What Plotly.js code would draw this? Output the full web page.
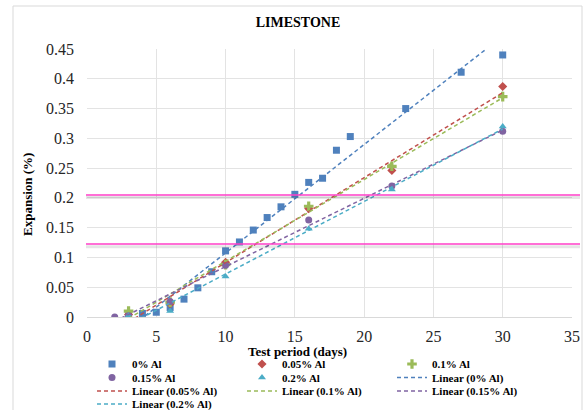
<!DOCTYPE html>
<html>
<head>
<meta charset="utf-8">
<script src="https://cdn.plot.ly/plotly-3.0.1.min.js"></script>
<style>html,body{margin:0;padding:0;background:#fff;}#chart{width:584px;height:410px;}</style>
</head>
<body>
<div id="chart"></div>
<script>
// ---- data ----
const seriesNames = ["0% Al", "0.05% Al", "0.1% Al", "0.15% Al", "0.2% Al"];

const days0 = [3, 4, 5, 6, 7, 8, 9, 10, 11, 12, 13, 14, 15, 16, 17, 18, 19, 23, 27, 30];
const exp0  = [0.002, 0.006, 0.008, 0.016, 0.030, 0.049, 0.076, 0.111, 0.126, 0.146, 0.167, 0.185, 0.206, 0.226, 0.233, 0.280, 0.303, 0.350, 0.411, 0.440];

const days005 = [3, 6, 10, 16, 22, 30];
const exp005  = [0.004, 0.022, 0.092, 0.182, 0.246, 0.387];

const days01 = [3, 6, 10, 16, 22, 30];
const exp01  = [0.010, 0.025, 0.088, 0.186, 0.253, 0.370];

const days015 = [2, 3, 6, 10, 16, 22, 30];
const exp015  = [0.000, 0.002, 0.026, 0.087, 0.163, 0.220, 0.312];

const days02 = [3, 6, 10, 16, 22, 30];
const exp02  = [0.002, 0.010, 0.068, 0.148, 0.214, 0.320];

const limitLines = [0.205, 0.1225];

const xTicks = [0, 5, 10, 15, 20, 25, 30, 35];
const yTicks = [0, 0.05, 0.1, 0.15, 0.2, 0.25, 0.3, 0.35, 0.4, 0.45];
const yTickText = ["0", "0.05", "0.1", "0.15", "0.2", "0.25", "0.3", "0.35", "0.4", "0.45"];

// ---- styling ----
const colors = ["#4F81BD", "#C0504D", "#9BBB59", "#8064A2", "#4BACC6"];
const symbols = ["square", "diamond", "cross", "circle", "triangle-up"];
const sizes = [7, 7, 8, 7, 7];
const serif = "'Liberation Serif', 'Times New Roman', serif";

const allX = [days0, days005, days01, days015, days02];
const allY = [exp0, exp005, exp01, exp015, exp02];

function linfit(x, y) {
  const n = x.length;
  const mx = x.reduce((a, b) => a + b, 0) / n;
  const my = y.reduce((a, b) => a + b, 0) / n;
  let sxy = 0, sxx = 0;
  for (let i = 0; i < n; i++) { sxy += (x[i] - mx) * (y[i] - my); sxx += (x[i] - mx) ** 2; }
  const m = sxy / sxx;
  return { m: m, b: my - m * mx };
}

// legend row assignment (one single-row legend per row, like the reference)
const markerLegend = ["legend", "legend", "legend", "legend2", "legend2"];
const lineLegend = ["legend2", "legend3", "legend3", "legend3", "legend4"];

const traces = [];
for (let i = 0; i < 5; i++) {
  traces.push({
    type: "scatter", mode: "markers", name: seriesNames[i],
    x: allX[i], y: allY[i],
    marker: { color: colors[i], symbol: symbols[i], size: sizes[i], line: { width: 0 } },
    legend: markerLegend[i], cliponaxis: true
  });
}
for (let i = 0; i < 5; i++) {
  const f = linfit(allX[i], allY[i]);
  const x0 = Math.min(...allX[i]), x1 = Math.max(...allX[i]);
  traces.push({
    type: "scatter", mode: "lines", name: "Linear (" + seriesNames[i] + ")",
    x: [x0, x1], y: [f.m * x0 + f.b, f.m * x1 + f.b],
    line: { color: colors[i], width: 1.5, dash: "4px,3px" },
    legend: lineLegend[i]
  });
}

// pixel helpers for paper placement (plot area 87..572 x 49..317)
const L = 87, R = 572, T = 49, B = 317;
const px = v => (v - L) / (R - L);
const py = v => 1 - (v - T) / (B - T);

const shapes = [];
// chart-area border
shapes.push({ type: "rect", xref: "paper", yref: "paper", x0: px(13), x1: px(582), y0: py(6), y1: py(416),
  line: { color: "#d9d9d9", width: 1 }, fillcolor: "rgba(0,0,0,0)", layer: "below" });
limitLines.forEach(v => {
  shapes.push({ type: "line", xref: "paper", yref: "y", x0: px(86), x1: px(580), y0: v - 0.0045, y1: v - 0.0045,
    line: { color: "rgba(0,0,0,0.10)", width: 3 } });
  shapes.push({ type: "line", xref: "paper", yref: "y", x0: px(86), x1: px(580), y0: v, y1: v,
    line: { color: "#FF3EC8", width: 1.5 } });
});

const legFont = { family: serif, size: 11, color: "#000", weight: "bold" };
function leg(yPix) {
  return { orientation: "h", x: px(92), xanchor: "left", y: py(yPix), yanchor: "middle",
    font: legFont, bgcolor: "rgba(0,0,0,0)", entrywidth: 105, entrywidthmode: "pixels",
    itemclick: false, itemdoubleclick: false };
}

const layout = {
  width: 584, height: 410,
  margin: { l: L, r: 584 - R, t: T, b: 410 - B, pad: 0, autoexpand: false },
  paper_bgcolor: "#fff", plot_bgcolor: "#fff",
  title: { text: "LIMESTONE", font: { family: serif, size: 14, color: "#000", weight: "bold" },
    x: px(298), xref: "paper", xanchor: "center", y: 1 - 22 / 410, yref: "container", yanchor: "middle" },
  xaxis: {
    range: [0, 35], tickvals: xTicks, ticktext: xTicks.map(String), showgrid: true, gridcolor: "#e3e3e3",
    zeroline: false, showline: true, linecolor: "#d9d9d9", ticks: "", ticklabelstandoff: 5,
    tickfont: { family: serif, size: 16, color: "#262626" },
    automargin: false, fixedrange: true
  },
  yaxis: {
    range: [0, 0.45], tickvals: yTicks, ticktext: yTickText, showgrid: true, gridcolor: "#e3e3e3",
    zeroline: false, showline: false, ticks: "", ticklabelstandoff: 12,
    tickfont: { family: serif, size: 16, color: "#262626" },
    automargin: false, fixedrange: true
  },
  annotations: [{
    text: "Expansion (%)", xref: "paper", yref: "paper", x: px(27), y: py(195), textangle: -90,
    showarrow: false, xanchor: "center", yanchor: "middle",
    font: { family: serif, size: 13, color: "#000", weight: "bold" }
  }, {
    text: "Test period (days)", xref: "paper", yref: "paper", x: px(297), y: py(351),
    showarrow: false, xanchor: "center", yanchor: "middle",
    font: { family: serif, size: 13, color: "#000", weight: "bold" }
  }],
  shapes: shapes,
  showlegend: true,
  legend: leg(364), legend2: leg(377.5), legend3: leg(391), legend4: leg(404)
};

Plotly.newPlot("chart", traces, layout, { displayModeBar: false, staticPlot: true });
</script>
</body>
</html>
